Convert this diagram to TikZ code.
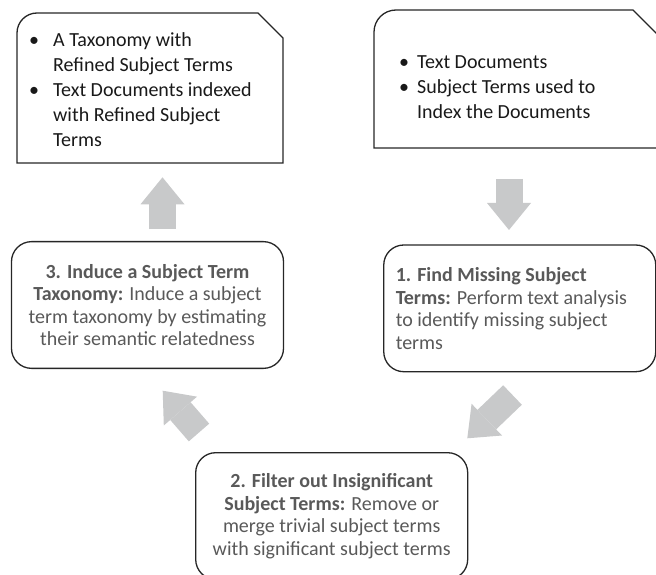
\documentclass[tikz,border=0pt]{standalone}
\usepackage{fontspec}
\setmainfont{Carlito}
\usetikzlibrary{arrows.meta, positioning}
\definecolor{stepgray}{RGB}{89,89,89}
\definecolor{arrowgray}{RGB}{200,201,202}
\definecolor{linegray}{RGB}{38,38,38}
\newcommand{\bul}[1][24pt]{\makebox[#1][l]{\textbullet}}
\newcommand{\ind}[1][24pt]{\hspace*{#1}}
\tikzset{
  stepbox/.style={draw=linegray, line width=1.3pt, rounded corners=20pt,
    minimum width=272pt, minimum height=126.7pt, inner sep=0pt,
    font=\fontsize{20}{22.5}\selectfont, text=stepgray, align=center},
  docbox/.style={draw=linegray, line width=1.3pt},
  doctext/.style={anchor=base west, inner sep=0pt, align=left,
    font=\fontsize{20}{25}\selectfont, text=black!90},
  flow/.style={draw=arrowgray, line width=27pt,
    -{Triangle[length=27pt, width=44pt, line width=0pt]}},
}

\begin{document}
\begin{tikzpicture}[x=1pt, y=1pt]
  \clip (0,0) rectangle (656,574);

  % --- Sheets ---
  \draw[docbox] (283,411) -- (17,411) -- (17,541)
    arc[start angle=180, end angle=90, radius=20] -- (258,561) -- (283,536) -- cycle;
  \draw[docbox] (658,426) -- (374,426) -- (374,542)
    arc[start angle=180, end angle=90, radius=22] -- (633,564) -- (658,539) -- cycle;

  % base of a multi-line node is its last line
  \node[doctext] (output) at (29,427.3) {%
    \bul A Taxonomy with\\
    \ind Refined Subject Terms\\
    \bul Text Documents indexed\\
    \ind with Refined Subject\\
    \ind Terms};
  \node[doctext] (input) at (399,455.7) {%
    \bul[18pt]Text Documents\\
    \bul[18pt]Subject Terms used to\\
    \ind[18pt]Index the Documents};

  % --- Steps ---
  \node[stepbox, align=flush left, text width=248pt, inner xsep=12pt] (find) at (519.75,265.65) {%
    \textbf{1. Find Missing Subject}\\
    \textbf{Terms:} Perform text analysis\\
    to identify missing subject\\
    terms};
  \node[stepbox] (filter) at (331.7,57.95) {%
    \textbf{2. Filter out Insignificant}\\
    \textbf{Subject Terms:} Remove or\\
    merge trivial subject terms\\
    with significant subject terms};
  \node[stepbox] (induce) at (147.5,269) {%
    \textbf{3. Induce a Subject Term}\\
    \textbf{Taxonomy:} Induce a subject\\
    term taxonomy by estimating\\
    their semantic relatedness};

  % --- Block arrows ---
  \coordinate (in-a) at (509,395);
  \coordinate (in-b) at (509,344);
  \coordinate (find-a) at (512.5,179);
  \coordinate (find-b) at (467.3,135.7);
  \coordinate (filter-a) at (199,141.5);
  \coordinate (filter-b) at (162.7,183.3);
  \coordinate (induce-a) at (162.5,344.7);
  \coordinate (induce-b) at (162.5,396.7);

  \draw[flow] (in-a) -- (in-b);
  \draw[flow] (find-a) -- (find-b);
  \draw[flow] (filter-a) -- (filter-b);
  \draw[flow] (induce-a) -- (induce-b);

\end{tikzpicture}
\end{document}
